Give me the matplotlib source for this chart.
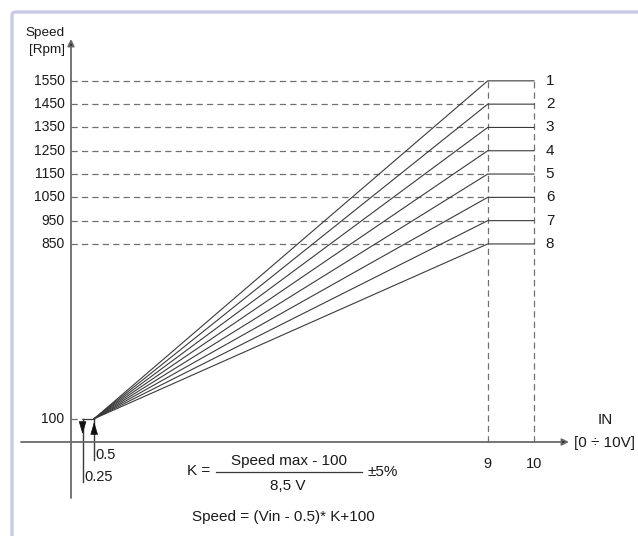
import matplotlib
matplotlib.use("Agg")
import matplotlib.pyplot as plt
from matplotlib.patches import FancyBboxPatch

# ---- data ----
speed_max = [1550, 1450, 1350, 1250, 1150, 1050, 950, 850]
curve_labels = ["1", "2", "3", "4", "5", "6", "7", "8"]
speed_min = 100
v_start = 0.5          # voltage where ramp starts
v_off = 0.25           # voltage where motor stops
v_full = 9             # voltage where max speed is reached
v_end = 10             # full scale input
ytick_values = [1550, 1450, 1350, 1250, 1150, 1050, 950, 850, 100]
xtick_values = [9, 10]

plt.rcParams['font.family'] = ['Liberation Sans', 'DejaVu Sans']
plt.rcParams['lines.scale_dashes'] = False

W, H = 638, 536
fig = plt.figure(figsize=(W / 100, H / 100), dpi=100)
ax = fig.add_axes([0, 0, 1, 1])
ax.set_axis_off()

# pixel <-> data mapping (schematic scale)
X0, XS = 71.0, 46.3
Y0, YS = 442.0, 0.233
def px2x(p): return (p - X0) / XS
def px2y(p): return (Y0 - p) / YS
ax.set_xlim(px2x(0), px2x(W))
ax.set_ylim(px2y(H), px2y(0))

LINE = '#3a3a3a'
DASH = '#707070'
AXC = '#6a6a6a'
TXT = '#1a1a1a'
dash = (0, (4.5, 3))

# border (top and left, lavender)
fig.patches.append(FancyBboxPatch((12 / W, -0.2), 1.3, (H - 12) / H + 0.2,
                                  boxstyle="round,pad=0,rounding_size=0.006",
                                  transform=fig.transFigure, fill=False,
                                  ec='#cacae6', lw=2.4, zorder=0))

# axes with arrows
ax.annotate('', xy=(0, px2y(39)), xytext=(0, px2y(498)),
            arrowprops=dict(arrowstyle='-|>', lw=1.3, color=AXC, fc='#222222',
                            ec=AXC, mutation_scale=10, shrinkA=0, shrinkB=0))
ax.annotate('', xy=(px2x(569), 0), xytext=(px2x(21), 0),
            arrowprops=dict(arrowstyle='-|>', lw=1.3, color=AXC, fc='#222222',
                            ec=AXC, mutation_scale=10, shrinkA=0, shrinkB=0))

# dashed guides
top = max(speed_max)
for s in speed_max:
    ax.plot([0, v_full], [s, s], color=DASH, lw=0.9, ls=dash)
for v in xtick_values:
    ax.plot([v, v], [0, top], color=DASH, lw=0.9, ls=dash)
ax.plot([0, v_off], [speed_min, speed_min], color=DASH, lw=0.9, ls=dash)

# ramp + plateau lines
for s, lab in zip(speed_max, curve_labels):
    ax.plot([v_start, v_full, v_end], [speed_min, s, s], color=LINE, lw=0.8,
            solid_joinstyle='miter')
    ax.text(px2x(550), s, lab, ha='center', va='center', fontsize=11, color=TXT)
ax.plot([v_off, v_start], [speed_min, speed_min], color=LINE, lw=0.9)

# start / stop arrows
arr = '-|>,head_length=0.5,head_width=0.15'
ax.plot([v_off, v_off], [speed_min, px2y(482)], color=LINE, lw=1.0)
ax.annotate('', xy=(v_off, px2y(434)), xytext=(v_off, px2y(422)),
            arrowprops=dict(arrowstyle=arr, lw=0.5, color='#111111',
                            mutation_scale=16, shrinkA=0, shrinkB=0))
ax.plot([v_start, v_start], [px2y(460), speed_min], color=LINE, lw=1.0)
ax.annotate('', xy=(v_start, px2y(422)), xytext=(v_start, px2y(434)),
            arrowprops=dict(arrowstyle=arr, lw=0.5, color='#111111',
                            mutation_scale=16, shrinkA=0, shrinkB=0))
ax.text(px2x(95), px2y(455), str(v_start), ha='left', va='center', fontsize=10.5, color=TXT)
ax.text(px2x(84), px2y(477), str(v_off), ha='left', va='center', fontsize=10.5, color=TXT)

# y tick labels
for s in ytick_values:
    ax.text(px2x(64.5), s, str(s), ha='right', va='center', fontsize=10, color=TXT)
ax.text(px2x(65), px2y(33), "Speed", ha='right', va='center', fontsize=9.7, color=TXT)
ax.text(px2x(65), px2y(50), "[Rpm]", ha='right', va='center', fontsize=9.7, color=TXT)

# x labels
for v in xtick_values:
    ax.text(v, px2y(464), str(v), ha='center', va='center', fontsize=10.5, color=TXT)
ax.text(px2x(605), px2y(420), "IN", ha='center', va='center', fontsize=11, color=TXT)
ax.text(px2x(604), px2y(443), "[0 ÷ 10V]", ha='center', va='center', fontsize=11, color=TXT)

# formula
ax.text(px2x(187), px2y(471), "K =", ha='left', va='center', fontsize=11, color=TXT)
ax.plot([px2x(216), px2x(362)], [px2y(472), px2y(472)], color=LINE, lw=0.9)
ax.text(px2x(289), px2y(461), "Speed max - 100", ha='center', va='center', fontsize=11, color=TXT)
ax.text(px2x(288), px2y(486), "8,5 V", ha='center', va='center', fontsize=11, color=TXT)
ax.text(px2x(367), px2y(472), "±5%", ha='left', va='center', fontsize=11, color=TXT)
ax.text(px2x(192), px2y(517), "Speed = (Vin - 0.5)* K+100", ha='left', va='center',
        fontsize=11, color=TXT)

fig.savefig("out.png", dpi=100, facecolor='white')
